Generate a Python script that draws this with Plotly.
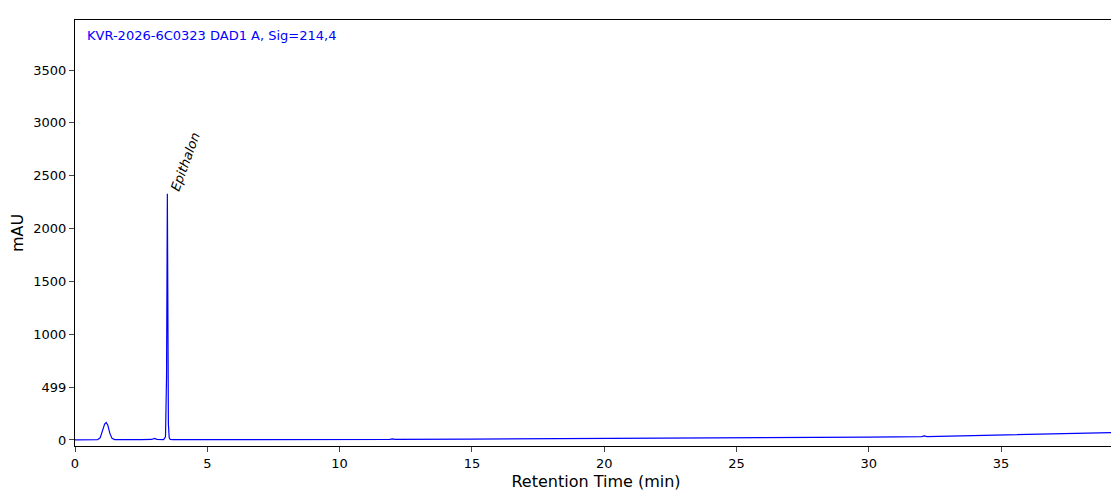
import plotly.graph_objects as go

times = [0.0, 0.5, 0.85, 0.95, 1.05, 1.12, 1.18, 1.24, 1.32, 1.40, 1.50, 1.7, 2.0, 2.5, 2.9, 3.0, 3.1, 3.2, 3.35, 3.42, 3.46, 3.49, 3.51, 3.53, 3.56, 3.60, 3.7, 4.2, 4.3, 4.4, 5.3, 5.4, 5.5, 7.2, 7.3, 7.4, 11.0, 11.1, 11.2, 11.9, 12.0, 12.1, 15, 20, 25, 30, 32.0, 32.1, 32.2, 35, 37, 39.4]
signal = [0, 0, 3, 20, 90, 150, 165, 140, 60, 15, 4, 3, 6, 3, 5, 15, 6, 3, 4, 30, 600, 2330, 1200, 150, 20, 5, 3, 3, 8, 3, 3, 9, 3, 3, 10, 4, 5, 10, 5, 5, 11, 6, 8, 12, 18, 27, 31, 38, 32, 44, 55, 70]

yticks = [0, 499, 1000, 1500, 2000, 2500, 3000, 3500]
xticks = [0, 5, 10, 15, 20, 25, 30, 35]

fig = go.Figure(go.Scatter(x=times, y=signal, mode="lines", line=dict(color="blue", width=1.2)))
font = "DejaVu Sans"
fig.update_layout(
    width=1119, height=499, margin=dict(l=67, r=10, t=12, b=61, autoexpand=False),
    plot_bgcolor="white", paper_bgcolor="white", showlegend=False,
    font=dict(family=font, size=13, color="black"),
)
fig.update_xaxes(range=[0, 39.38], tickvals=xticks, ticks="outside", ticklen=5, automargin=False,
                 showline=True, linecolor="black", mirror=True, showgrid=False, zeroline=False,
                 title=dict(text="Retention Time (min)", standoff=6))
fig.update_yaxes(range=[-57, 3973], tickvals=yticks, ticks="outside", ticklen=5, automargin=False,
                 showline=True, linecolor="black", mirror=True, showgrid=False, zeroline=False,
                 title=dict(text="mAU", standoff=8))
fig.add_annotation(x=0.01, y=0.985, xref="paper", yref="paper", xanchor="left", yanchor="top",
                   text="KVR-2026-6C0323 DAD1 A, Sig=214,4", showarrow=False,
                   font=dict(color="blue", size=13))
fig.add_annotation(x=3.5, y=2330, text="<i>Epithalon</i>", showarrow=False, textangle=-70,
                   xanchor="left", yanchor="bottom", xshift=-2, yshift=-2, font=dict(size=13))
fig.write_html("out.html")
